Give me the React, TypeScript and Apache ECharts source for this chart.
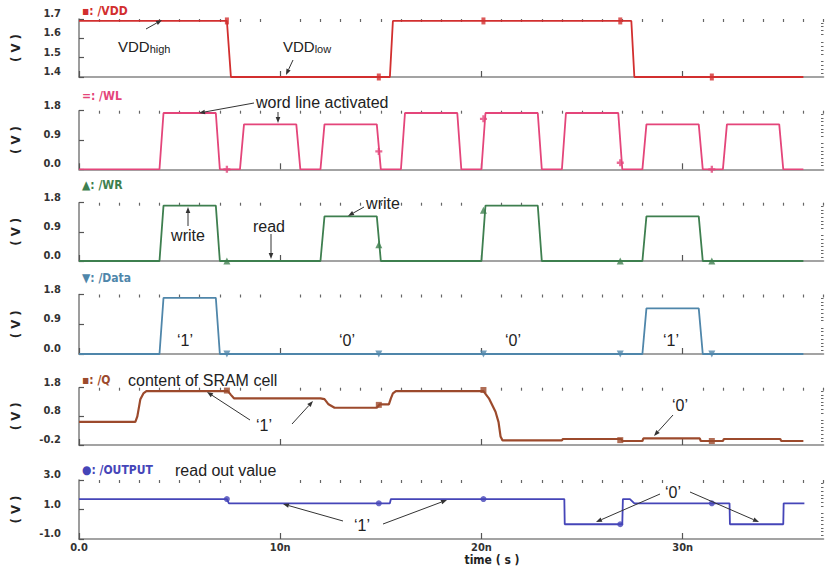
import React, { useEffect, useRef } from 'react';
import * as echarts from 'echarts';

// ---------- data (time in ns, volts) ----------
const markerTimes = [7.35, 14.9, 20.1, 26.9, 31.45];

const vddTime = [0, 7.35, 7.55, 15.45, 15.6, 27.45, 27.6, 36.0];
const vddVolt = [1.69, 1.69, 1.4, 1.4, 1.69, 1.69, 1.4, 1.4];
const vddMarks = [1.69, 1.4, 1.69, 1.69, 1.4];

const wlTime = [0, 4.0, 4.2, 6.8, 7.0, 8.0, 8.2, 10.8, 11.0, 12.0, 12.2, 14.8, 15.0, 16.0, 16.2, 18.8, 19.0, 20.0, 20.2, 22.8, 23.0, 24.0, 24.2, 26.8, 27.0, 28.0, 28.2, 30.8, 31.0, 32.0, 32.2, 34.8, 35.0, 36.0];
const wlVolt = [0, 0, 1.73, 1.73, 0, 0, 1.38, 1.38, 0, 0, 1.38, 1.38, 0, 0, 1.73, 1.73, 0, 0, 1.73, 1.73, 0, 0, 1.73, 1.73, 0, 0, 1.38, 1.38, 0, 0, 1.38, 1.38, 0, 0];
const wlMarks = [0, 0.55, 1.55, 0.2, 0];

const wrTime = [0, 4.0, 4.2, 6.8, 7.0, 12.0, 12.2, 14.8, 15.0, 20.0, 20.2, 22.8, 23.0, 28.0, 28.2, 30.8, 31.0, 36.0];
const wrVolt = [0, 0, 1.71, 1.71, 0, 0, 1.38, 1.38, 0, 0, 1.71, 1.71, 0, 0, 1.38, 1.38, 0, 0];
const wrMarks = [0, 0.5, 1.57, 0, 0];

const dataTime = [0, 4.0, 4.2, 6.8, 7.0, 28.0, 28.2, 30.8, 31.0, 36.0];
const dataVolt = [0, 0, 1.7, 1.7, 0, 0, 1.38, 1.38, 0, 0];
const dataMarks = [0, 0, 0, 0, 0];

const qTime = [0, 2.8, 2.9, 3.05, 3.2, 3.35, 7.4, 7.55, 7.7, 12.0, 12.2, 12.4, 12.7, 14.8, 14.95, 15.4, 15.5, 15.6, 15.75, 20.1, 20.37, 20.7, 20.85, 20.95, 21.05, 24.0, 24.05, 26.95, 27.0, 28.0, 28.05, 30.85, 30.9, 32.0, 32.05, 34.85, 34.9, 36.0];
const qVolt = [0.61, 0.61, 0.8, 1.4, 1.6, 1.68, 1.68, 1.55, 1.43, 1.43, 1.4, 1.22, 1.1, 1.1, 1.22, 1.22, 1.43, 1.6, 1.68, 1.68, 1.43, 0.96, 0.6, 0.1, -0.04, -0.04, 0.01, 0.01, -0.06, -0.06, 0.03, 0.03, -0.06, -0.06, 0.01, 0.01, -0.06, -0.06];
const qMarks = [1.7, 1.2, 1.72, -0.03, -0.06];

const outTime = [0, 7.35, 7.45, 15.45, 15.5, 24.12, 24.14, 27.0, 27.03, 27.38, 27.6, 32.33, 32.35, 35.0, 35.02, 36.05];
const outVolt = [1.71, 1.71, 1.42, 1.42, 1.71, 1.71, 0.0, 0.0, 1.71, 1.71, 1.42, 1.42, 0.0, 0.0, 1.42, 1.42];
const outMarks = [1.71, 1.42, 1.71, 0.0, 1.42];

const signalNames = ['▪: /VDD', '=: /WL', '▲: /WR', '▼: /Data', '▪: /Q', '●: /OUTPUT'];
const yMajors = [
  [1.4, 1.5, 1.6, 1.7],
  [0, 0.9, 1.8],
  [0, 0.9, 1.8],
  [0, 0.9, 1.8],
  [-0.2, 0.8, 1.8],
  [-1, 1, 3],
];
const xMajors = [0, 10, 20, 30];
const xTickLabels = ['0.0', '10n', '20n', '30n'];
const xMax = 37;

// ---------- style ----------
const colors = ['#d22f2f', '#e4457a', '#3e7f4f', '#4f86aa', '#9c4a2c', '#4545b8'];
const gridTops = [19, 110.7, 202.7, 294.5, 387.7, 480];
const gridHeights = [58, 58.6, 58.3, 59.5, 57.3, 59];
const titleY = [11, 96, 185, 278, 380, 470];
const yMinorSplits = [5, 8, 8, 8, 8, 8];
const symbols: any[] = [
  { symbol: 'rect', size: [4, 7], rotate: 0 },
  { symbol: 'path://M2 0h2v2h2v2h-2v2h-2v-2h-2v-2h2z', size: 7, rotate: 0 },
  { symbol: 'triangle', size: 7, rotate: 0 },
  { symbol: 'triangle', size: 7, rotate: 180 },
  { symbol: 'rect', size: 6, rotate: 0 },
  { symbol: 'circle', size: 6, rotate: 0 },
];

const AX_FONT = 'DejaVu Sans Condensed, DejaVu Sans, sans-serif';
const TXT_FONT = 'Liberation Sans, Arial, sans-serif';

function zip(t: number[], v: number[]) {
  return t.map((x, i) => [x, v[i]]);
}

function minorsOf(majors: number[], n: number) {
  const out: number[] = [];
  for (let i = 0; i < majors.length - 1; i++) {
    const step = (majors[i + 1] - majors[i]) / n;
    for (let k = 1; k < n; k++) out.push(majors[i] + step * k);
  }
  return out;
}

function xMinors() {
  const out: number[] = [];
  for (let k = 1; k <= xMax; k++) if (k % 10 !== 0) out.push(k);
  return out;
}

function arrow(x1: number, y1: number, x2: number, y2: number) {
  const ang = Math.atan2(y2 - y1, x2 - x1);
  const L = 6;
  const W = 2.3;
  const bx = x2 - L * Math.cos(ang);
  const by = y2 - L * Math.sin(ang);
  const px = -Math.sin(ang) * W;
  const py = Math.cos(ang) * W;
  return [
    { type: 'line', silent: true, z: 50, shape: { x1, y1, x2: bx, y2: by }, style: { stroke: '#333', lineWidth: 1 } },
    { type: 'polygon', silent: true, z: 50, shape: { points: [[x2, y2], [bx + px, by + py], [bx - px, by - py]] }, style: { fill: '#333' } },
  ];
}

function txt(text: string, x: number, y: number, align = 'center', size = 16) {
  return {
    type: 'text', x, y, z: 50, silent: true,
    style: { text, fontSize: size, fontFamily: TXT_FONT, fill: '#222', align, verticalAlign: 'middle' },
  };
}

function buildOption() {
  const series: any[] = [
    [vddTime, vddVolt, vddMarks],
    [wlTime, wlVolt, wlMarks],
    [wrTime, wrVolt, wrMarks],
    [dataTime, dataVolt, dataMarks],
    [qTime, qVolt, qMarks],
    [outTime, outVolt, outMarks],
  ];

  const grid: any[] = [];
  const xAxis: any[] = [];
  const yAxis: any[] = [];
  const ser: any[] = [];

  series.forEach(([t, v, m], i) => {
    const majors = yMajors[i];
    const ymin = majors[0];
    const ymax = majors[majors.length - 1];
    grid.push({ left: 79, top: gridTops[i], width: 744.5, height: gridHeights[i] });
    xAxis.push({
      gridIndex: i, type: 'value', min: 0, max: xMax,
      axisLine: { onZero: false, lineStyle: { color: '#858585', width: 1.6 } },
      axisTick: { show: true, inside: true, length: 6, customValues: xMajors, lineStyle: { color: '#555', width: 1.2 } },
      splitLine: { show: false },
      axisLabel: {
        show: i === 5, customValues: xMajors, margin: 3, fontFamily: AX_FONT, fontWeight: 'bold', fontSize: 11, color: '#333',
        formatter: (val: number) => {
          const k = xMajors.indexOf(val);
          return k >= 0 ? xTickLabels[k] : '';
        },
      },
    });
    xAxis.push({
      gridIndex: i, type: 'value', min: 0, max: xMax,
      axisLine: { show: false, onZero: false },
      axisTick: { show: true, inside: true, length: 3, customValues: xMinors(), lineStyle: { color: '#666', width: 1.2 } },
      axisLabel: { show: false },
      splitLine: { show: false },
    });
    yAxis.push({
      gridIndex: i, type: 'value', min: ymin, max: ymax,
      axisLine: { show: true, onZero: false, lineStyle: { color: '#858585', width: 1.6 } },
      axisTick: { show: true, inside: true, length: 5, customValues: majors, lineStyle: { color: '#555', width: 1.2 } },
      axisLabel: {
        show: true, customValues: majors, margin: 18, fontFamily: AX_FONT, fontWeight: 'bold', fontSize: 11,
        color: '#333', verticalAlign: 'bottom', formatter: (val: number) => val.toFixed(1),
      },
      splitLine: { show: false },
      name: '( V )', nameLocation: 'middle', nameGap: 57,
      nameTextStyle: { fontFamily: AX_FONT, fontWeight: 'bold', fontSize: 13, color: '#222' },
    });
    yAxis.push({
      gridIndex: i, type: 'value', min: ymin, max: ymax,
      axisLine: { show: false, onZero: false },
      axisTick: { show: true, inside: true, length: 2.5, customValues: minorsOf(majors, yMinorSplits[i]), lineStyle: { color: '#666' } },
      axisLabel: { show: false },
      splitLine: { show: false },
    });
    ser.push({
      type: 'line', xAxisIndex: 2 * i, yAxisIndex: 2 * i, data: zip(t, v), showSymbol: false,
      lineStyle: { color: colors[i], width: i === 4 ? 2.2 : 1.8 }, itemStyle: { color: colors[i] },
      silent: true, z: 3,
    });
    ser.push({
      type: 'scatter', xAxisIndex: 2 * i, yAxisIndex: 2 * i, data: zip(markerTimes, m),
      symbol: symbols[i].symbol, symbolSize: symbols[i].size, symbolRotate: symbols[i].rotate,
      itemStyle: { color: colors[i] }, silent: true, z: 4,
    });
  });

  const graphic: any[] = [];
  signalNames.forEach((n, i) => {
    graphic.push({
      type: 'text', x: 82, y: titleY[i], z: 50, silent: true,
      style: { text: n, fontFamily: AX_FONT, fontWeight: 'bold', fontSize: 12, fill: colors[i], align: 'left', verticalAlign: 'middle' },
    });
  });

  const richVdd = {
    a: { fontSize: 15, fontFamily: TXT_FONT, fill: '#222', lineHeight: 18, verticalAlign: 'bottom' },
    b: { fontSize: 11, fontFamily: TXT_FONT, fill: '#222', lineHeight: 14, verticalAlign: 'bottom' },
  };
  // panel 1
  graphic.push({
    type: 'text', x: 118, y: 45, z: 50, silent: true,
    style: { text: '{a|VDD}{b|high}', align: 'left', verticalAlign: 'middle', rich: richVdd },
  });
  graphic.push({
    type: 'text', x: 283, y: 45, z: 50, silent: true,
    style: { text: '{a|VDD}{b|low}', align: 'left', verticalAlign: 'middle', rich: richVdd },
  });
  graphic.push(...arrow(146, 29, 162, 20));
  graphic.push(...arrow(293, 60, 286, 75));

  // panel 2
  graphic.push(txt('word line activated', 256, 102, 'left'));
  graphic.push(...arrow(254, 103, 199, 113));
  graphic.push(...arrow(278, 112, 278, 123));

  // panel 3
  graphic.push(txt('write', 188, 235));
  graphic.push(...arrow(188, 226, 188, 207));
  graphic.push(txt('read', 269, 226));
  graphic.push(...arrow(271, 234, 271, 259));
  graphic.push(txt('write', 383, 203));
  graphic.push(...arrow(364, 207, 348, 216));

  // panel 4
  graphic.push(txt('‘1’', 185, 340));
  graphic.push(txt('‘0’', 347, 340));
  graphic.push(txt('‘0’', 513, 340));
  graphic.push(txt('‘1’', 671, 340));

  // panel 5
  graphic.push(txt('content of SRAM cell', 128, 380, 'left'));
  graphic.push(txt('‘1’', 264, 425));
  graphic.push(...arrow(250, 420, 207, 392));
  graphic.push(...arrow(292, 424, 313, 401));
  graphic.push(txt('‘0’', 680, 405));
  graphic.push(...arrow(673, 415, 654, 436));

  // panel 6
  graphic.push(txt('read out value', 175, 470, 'left'));
  graphic.push(txt('‘1’', 362, 525));
  graphic.push(...arrow(343, 521, 283, 504));
  graphic.push(...arrow(383, 524, 447, 500));
  graphic.push(txt('‘0’', 673, 492));
  graphic.push(...arrow(660, 494, 596, 522));
  graphic.push(...arrow(690, 492, 759, 522));

  graphic.push({
    type: 'text', x: 492, y: 560, z: 50, silent: true,
    style: { text: 'time ( s )', fontFamily: AX_FONT, fontWeight: 'bold', fontSize: 12, fill: '#222', align: 'center', verticalAlign: 'middle' },
  });

  return {
    animation: false,
    backgroundColor: '#ffffff',
    grid, xAxis, yAxis, series: ser, graphic,
  };
}

export default function App() {
  const ref = useRef<HTMLDivElement>(null);
  useEffect(() => {
    const chart = echarts.init(ref.current!, null, { renderer: 'svg' });
    chart.setOption(buildOption() as any);
    return () => chart.dispose();
  }, []);
  return (
    <div
      ref={ref}
      style={{ position: 'fixed', left: 0, top: 0, width: 825, height: 572, background: '#fff' }}
    />
  );
}
